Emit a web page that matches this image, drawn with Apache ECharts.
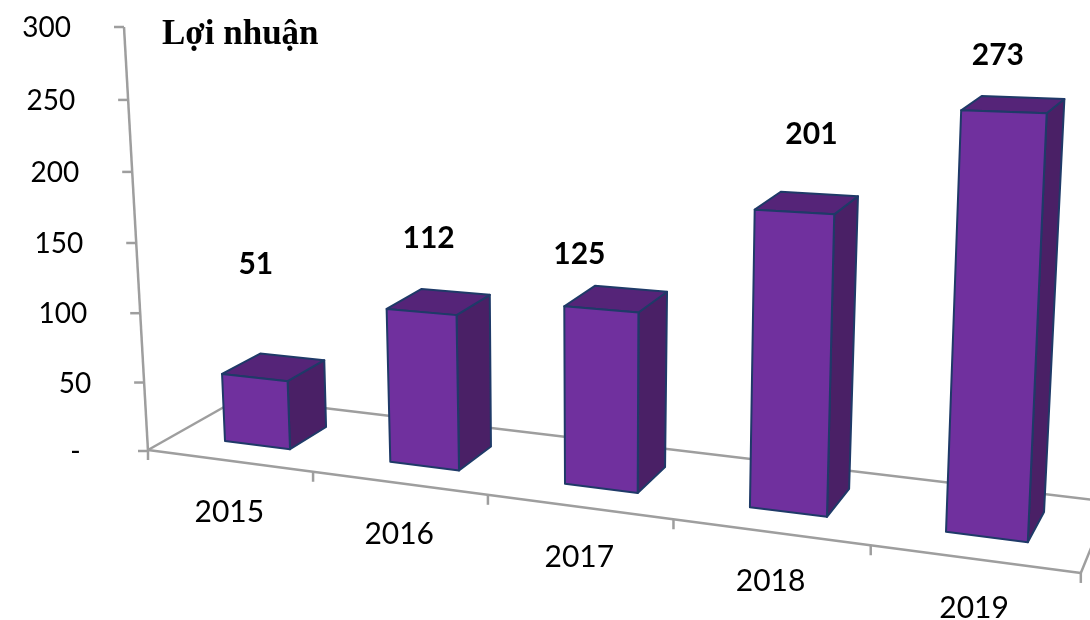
<!DOCTYPE html>
<html>
<head>
<meta charset="utf-8">
<title>Lợi nhuận</title>
<script src="https://cdn.jsdelivr.net/npm/echarts@6/dist/echarts.min.js"></script>
<style>
html, body { margin: 0; padding: 0; background: #fff; }
#chart1 { width: 1090px; height: 620px; }
</style>
</head>
<body>
<div id="chart1"></div>
<script>
var years = ['2015', '2016', '2017', '2018', '2019'];
var profit = [51, 112, 125, 201, 273];
var yTicks = [0, 50, 100, 150, 200, 250, 300];

// hand placed value labels, offset from the top of each bar
var labelNudge = [[1, -113], [7, -74], [-22, -55], [17, -78], [-6, -56]];

// the picture is a skewed 3D chart: these describe the planes it is seen through
var barFront = { a: 177.13, b: 153.56, c: -0.02669, x0: 225, y0: 441, dy: 0.126, topY: 45, topDu: 5.5, lean: -0.05, leanDu: 0.02 };
var barBack = { a: 215.7, b: 149.2, c: -0.0259, x0: 326, y0: 427, dy: 0.1184, topY: 30, topDu: 6, lean: -0.04, leanDu: 0.019 };
var floorFront = { a: 148, b: 156.3, c: -0.028, x0: 148, y0: 450, dy: 0.1318, topY: 0, topDu: 0, lean: 0, leanDu: 0 };
var floorBack = { a: 240, b: 142.9, c: -0.028, x0: 240, y0: 398, dy: 0.1195, topY: 0, topDu: 0, lean: 0, leanDu: 0 };
var barGap = 0.3;

var grey = '#9e9e9e';
var edge = '#1f3a68';

// u: position along the category axis, t: value as share of the axis
function project(plane, u, t) {
    var bx = (plane.a + plane.b * u) / (1 + plane.c * u);
    var by = plane.y0 + (bx - plane.x0) * plane.dy;
    var rise = (by - (plane.topY + plane.topDu * u)) * t;
    return [bx + (plane.lean + plane.leanDu * u) * rise, by - rise];
}

function toPlane(sys, pt) {
    return {
        u: (pt[0] - sys.x) / sys.width * years.length,
        t: (sys.y + sys.height - pt[1]) / sys.height
    };
}

function wallPoint(t) {
    var y = (451 - 425 * t) / (1 - 0.037 * t);
    return [148 - 24 * (451 - y) / 424, y];
}

function line(a, b) {
    return { type: 'line', shape: { x1: a[0], y1: a[1], x2: b[0], y2: b[1] }, style: { stroke: grey, lineWidth: 2.5 } };
}

function face(points, fill) {
    return {
        type: 'polygon',
        shape: { points: points },
        style: { fill: fill, stroke: edge, lineWidth: 2, lineJoin: 'round' }
    };
}

function label(text, x, y, size, bold, align) {
    return {
        type: 'text',
        x: x,
        y: y,
        style: {
            text: text,
            fill: '#000',
            font: (bold ? 'bold ' : '') + size + 'px Lato',
            textAlign: align,
            textVerticalAlign: 'middle'
        }
    };
}

function renderFloor(params, api) {
    var n = years.length;
    var children = [
        line(project(floorBack, n, 0), project(floorBack, 0, 0)),
        line(project(floorBack, 0, 0), project(floorFront, 0, 0)),
        line(project(floorFront, 0, 0), project(floorFront, n, 0)),
        line(project(floorFront, n, 0), project(floorBack, n, 0)),
        line(wallPoint(0), wallPoint(1))
    ];
    return { type: 'group', children: children };
}

function renderYear(params, api) {
    var i = api.value(0);
    var p = toPlane(params.coordSys, api.coord([i, 0]));
    var tickA = project(floorFront, i, 0);
    var mid = project(floorFront, p.u, 0);
    var children = [line(tickA, [tickA[0], tickA[1] + 10]), label(years[i], mid[0], mid[1] + 52 - 0.75 * i, 30, false, 'center')];
    if (i === years.length - 1) {
        var end = project(floorFront, years.length, 0);
        children.push(line(end, [end[0], end[1] + 10]));
    }
    return { type: 'group', children: children };
}

function renderTick(params, api) {
    var v = api.value(1);
    var p = toPlane(params.coordSys, api.coord([0, v]));
    var w = wallPoint(p.t);
    return {
        type: 'group',
        children: [
            line([w[0] - 10, w[1]], w),
            label(v === 0 ? '-  ' : String(v), w[0] - 53, w[1] + 1, 28, false, 'right')
        ]
    };
}

function renderBar(params, api) {
    var sys = params.coordSys;
    var i = api.value(0);
    var v = api.value(1);
    var t = toPlane(sys, api.coord([i, v])).t;
    var u0 = i + barGap;
    var u1 = i + 1 - barGap;
    var fl0 = project(barFront, u0, 0), fr0 = project(barFront, u1, 0);
    var fl1 = project(barFront, u0, t), fr1 = project(barFront, u1, t);
    var bl1 = project(barBack, u0, t), br1 = project(barBack, u1, t);
    var br0 = project(barBack, u1, 0);
    var mid = [(fl1[0] + fr1[0]) / 2, (fl1[1] + fr1[1]) / 2];
    return {
        type: 'group',
        children: [
            face([fr0, fr1, br1, br0], '#4a2066'),
            face([fl1, bl1, br1, fr1], '#552478'),
            face([fl0, fl1, fr1, fr0], '#70309e'),
            label(String(v), mid[0] + labelNudge[i][0], mid[1] + labelNudge[i][1], 30, true, 'center')
        ]
    };
}

var chart1 = echarts.init(document.getElementById('chart1'));
chart1.setOption({
    animation: false,
    backgroundColor: '#fff',
    title: {
        text: 'Lợi nhuận',
        left: 157,
        top: 12,
        textStyle: { fontFamily: 'Liberation Serif', fontWeight: 'bold', fontSize: 35, color: '#000' }
    },
    grid: { left: 80, right: 10, top: 30, bottom: 168 },
    xAxis: { type: 'category', data: years, show: false },
    yAxis: { type: 'value', min: 0, max: 300, interval: 50, show: false },
    series: [
        { type: 'custom', silent: true, renderItem: renderFloor, data: [[0, 0]] },
        { type: 'custom', silent: true, renderItem: renderTick, data: yTicks.map(function (v) { return [0, v]; }) },
        { type: 'custom', silent: true, renderItem: renderYear, data: years.map(function (y, i) { return [i, 0]; }) },
        { type: 'custom', silent: true, name: 'Lợi nhuận', renderItem: renderBar, data: profit.map(function (v, i) { return [i, v]; }) }
    ]
});
</script>
</body>
</html>
